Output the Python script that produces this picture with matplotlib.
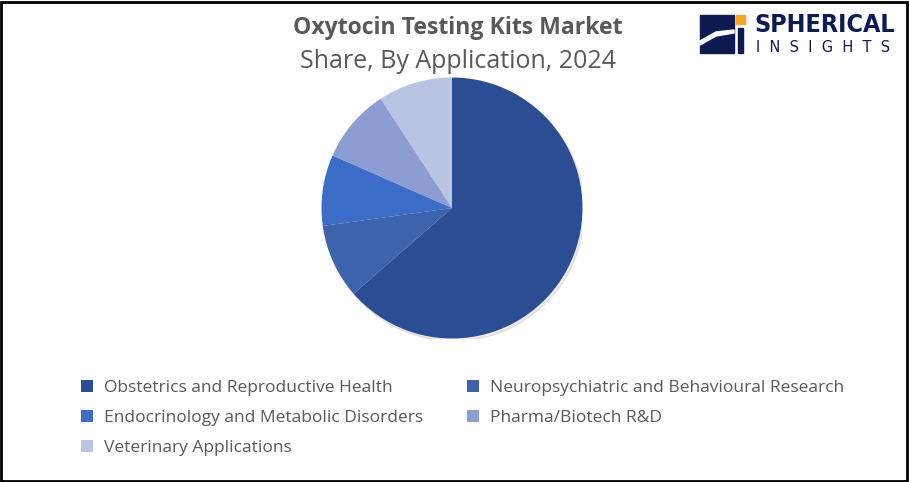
import matplotlib.pyplot as plt
from matplotlib.patches import Rectangle, Circle, Polygon

# Market share by application, 2024 (%)
applications = [
    'Obstetrics and Reproductive Health',
    'Neuropsychiatric and Behavioural Research',
    'Endocrinology and Metabolic Disorders',
    'Pharma/Biotech R&D',
    'Veterinary Applications',
]
shares = [63.6, 9.2, 8.8, 9.2, 9.2]
colors = ['#2b4d93', '#3d63ad', '#3a6cc8', '#8c9dd3', '#b9c3e2']

W, H = 909, 482
fig = plt.figure(figsize=(W / 100, H / 100), dpi=100)
fig.patch.set_facecolor('white')

# pie placed by pixel centre / radius
cx, cy, r = 452, 208, 130.5
ax = fig.add_axes([(cx - r) / W, (H - cy - r) / H, 2 * r / W, 2 * r / H])
ax.add_patch(Circle((0.015, -0.02), 1.0, color='#000000', alpha=0.08, zorder=0))
wedges, _ = ax.pie(shares, colors=colors, startangle=90, counterclock=False,
                   radius=1.0, wedgeprops={'linewidth': 0})
ax.set_xlim(-1, 1)
ax.set_ylim(-1, 1)
ax.set_aspect('equal')
ax.axis('off')

# titles
fig.text(458 / W, 1 - 28 / H, 'Oxytocin Testing Kits Market', ha='center', va='center',
         fontsize=16.6, fontweight='bold', color='#595959', family='Open Sans')
fig.text(458 / W, 1 - 62 / H, 'Share, By Application, 2024', ha='center', va='center',
         fontsize=18, color='#595959', family='Open Sans')

# legend, filled row by row
order = [0, 2, 4, 1, 3]
leg = fig.legend([wedges[i] for i in order], [applications[i] for i in order],
                 ncol=2, loc='upper left', bbox_to_anchor=(74 / W, 1 - 373 / H),
                 frameon=False, handlelength=0.7, handleheight=0.7,
                 handletextpad=0.62, columnspacing=2.55, labelspacing=0.79,
                 borderaxespad=0, borderpad=0.4,
                 prop={'family': 'Open Sans', 'size': 12.5})
for t in leg.get_texts():
    t.set_color('#595959')

# logo
navy = '#0e1a52'
fig.patches.append(Rectangle((700 / W, 1 - 53 / H), 34 / W, 38 / H,
                             transform=fig.transFigure, color=navy))
fig.patches.append(Polygon([(700 / W, 1 - 45 / H), (716 / W, 1 - 36 / H), (734 / W, 1 - 33 / H),
                            (734 / W, 1 - 30 / H), (716 / W, 1 - 32 / H), (700 / W, 1 - 41 / H)],
                           closed=True, transform=fig.transFigure, color='white'))
fig.patches.append(Rectangle((736 / W, 1 - 24 / H), 9 / W, 9 / H,
                             transform=fig.transFigure, color='#f5a623'))
fig.patches.append(Rectangle((738 / W, 1 - 53 / H), 5 / W, 25 / H,
                             transform=fig.transFigure, color=navy))
fig.text(754 / W, 1 - 25 / H, 'SPHERICAL', ha='left', va='center', fontsize=18,
         fontweight='bold', color=navy, family='DejaVu Sans', fontstretch='condensed')
fig.text(756 / W, 1 - 47 / H, 'I  N  S  I  G  H  T  S', ha='left', va='center', fontsize=10.5,
         color=navy, family='DejaVu Sans')

# frame
fig.patches.append(Rectangle((1 / W, 1 / H), 1 - 3 / W, 1 - 3 / H, transform=fig.transFigure,
                             fill=False, edgecolor='black', linewidth=2))

fig.savefig('out.png', dpi=100)
